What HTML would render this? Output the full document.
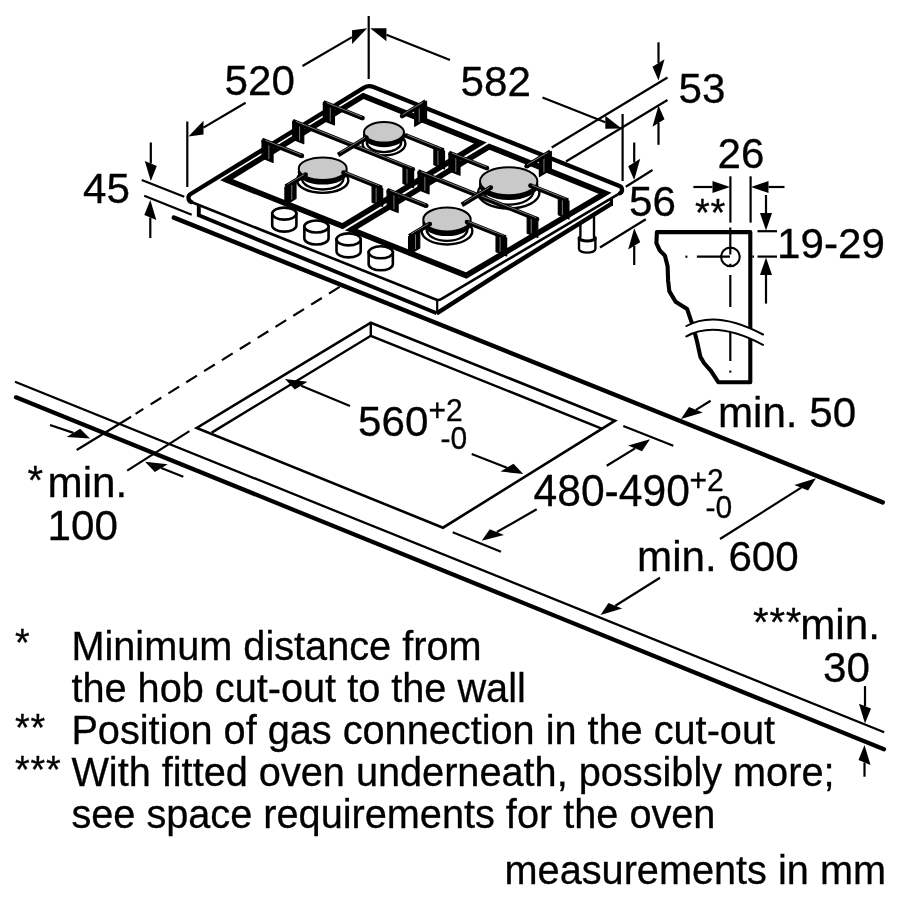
<!DOCTYPE html>
<html><head><meta charset="utf-8"><title>Hob installation dimensions</title>
<style>
html,body{margin:0;padding:0;background:#fff;}
svg{display:block;}
text{font-family:"Liberation Sans",Arial,Helvetica,sans-serif;fill:#000;stroke:#000;stroke-width:0.3px;}
</style></head><body>
<svg width="900" height="900" viewBox="0 0 900 900">
<rect width="900" height="900" fill="#fff"/>
<line x1="173.9" y1="217.7" x2="882.7" y2="502.3" stroke="#000" stroke-width="4.5" stroke-linecap="round" />
<line x1="15" y1="381.7" x2="884.2" y2="732.3" stroke="#000" stroke-width="2.3" stroke-linecap="butt" />
<line x1="16" y1="397.3" x2="884" y2="749.3" stroke="#000" stroke-width="4.2" stroke-linecap="round" />
<line x1="150.6" y1="404.4" x2="341.5" y2="285.8" stroke="#000" stroke-width="2.2" stroke-linecap="butt" stroke-dasharray="12.6 8.4"/>
<line x1="135.6" y1="413.9" x2="143.3" y2="408.9" stroke="#000" stroke-width="2.2" stroke-linecap="butt" />
<line x1="131.1" y1="416.7" x2="76.7" y2="450" stroke="#000" stroke-width="2.2" stroke-linecap="butt" />
<line x1="189.4" y1="431.1" x2="127.2" y2="470.6" stroke="#000" stroke-width="2.2" stroke-linecap="butt" />
<path d="M370.8 322.7 L615 420.7 L443 527.7 L196.7 427.9 Z" fill="none" stroke="#000" stroke-width="2.6" stroke-linecap="butt" stroke-linejoin="miter" />
<path d="M211.7 432.6 L370.8 335.8 L601.7 428.6" fill="none" stroke="#000" stroke-width="2.5" stroke-linecap="butt" stroke-linejoin="miter" />
<line x1="370.8" y1="322.7" x2="370.8" y2="335.8" stroke="#000" stroke-width="2.4" stroke-linecap="butt" />
<path d="M580.4 212 L580.4 237 L579 237.5 L579 249 A8.2 3.6 0 0 0 595.4 249 L595.4 237.5 L594 237 L594 212 Z" fill="#fff" stroke="#000" stroke-width="2.4" stroke-linecap="butt" stroke-linejoin="round" />
<path d="M579 237.6 A8.2 3.4 0 0 0 595.4 237.6" fill="none" stroke="#000" stroke-width="3.0" stroke-linecap="butt" stroke-linejoin="miter" />
<path d="M198.8 205.5 L198.8 215.3 L436.7 313.3 L500 272.8 L611.6 203.6 L611.6 197.5 L438.6 300.6 Z" fill="#fff" stroke="none" stroke-width="0" stroke-linecap="butt" stroke-linejoin="miter" />
<path d="M198.8 205.5 L198.8 215.3 L436.7 313.3" fill="none" stroke="#000" stroke-width="3.9" stroke-linecap="butt" stroke-linejoin="miter" />
<path d="M436.7 313.3 L500 272.8 L611.6 203.6" fill="none" stroke="#000" stroke-width="4.4" stroke-linecap="butt" stroke-linejoin="round" />
<path d="M611.4 206 L611.4 196.5" fill="none" stroke="#000" stroke-width="3.2" stroke-linecap="butt" stroke-linejoin="miter" />
<line x1="437.2" y1="300.5" x2="437.2" y2="312.5" stroke="#000" stroke-width="2.2" stroke-linecap="butt" />
<path d="M191.33 202.02 A4.5 4.5 0 0 1 190.65 194.01 L363.68 87.8 A11 11 0 0 1 373.54 86.97 L619.49 186.07 A4 4 0 0 1 620.03 193.23 L441.14 299.1 A6 6 0 0 1 435.86 299.51 Z" fill="#fff" stroke="none" stroke-width="0" stroke-linecap="butt" stroke-linejoin="miter" />
<path d="M191.33 202.02 A4.5 4.5 0 0 1 190.65 194.01 L363.68 87.8 A11 11 0 0 1 373.54 86.97 L619.49 186.07 A4 4 0 0 1 620.03 193.23" fill="none" stroke="#000" stroke-width="4.3" stroke-linecap="round" stroke-linejoin="round" />
<path d="M191.33 202.02 L435.86 299.51 A6 6 0 0 0 441.14 299.1 L620.03 193.23" fill="none" stroke="#000" stroke-width="2.6" stroke-linecap="round" stroke-linejoin="round" />
<path d="M272.2 213.6 L272.2 225.6 A12.1 6 0 0 0 296.4 225.6 L296.4 213.6 Z" fill="#fff" stroke="#000" stroke-width="2.6" stroke-linecap="butt" stroke-linejoin="miter" />
<ellipse cx="284.3" cy="213.6" rx="12.1" ry="6" fill="#fff" stroke="#000" stroke-width="2.6"/>
<path d="M304.35 226.5 L304.35 238.5 A12.1 6 0 0 0 328.55 238.5 L328.55 226.5 Z" fill="#fff" stroke="#000" stroke-width="2.6" stroke-linecap="butt" stroke-linejoin="miter" />
<ellipse cx="316.45" cy="226.5" rx="12.1" ry="6" fill="#fff" stroke="#000" stroke-width="2.6"/>
<path d="M336.5 239.4 L336.5 251.4 A12.1 6 0 0 0 360.7 251.4 L360.7 239.4 Z" fill="#fff" stroke="#000" stroke-width="2.6" stroke-linecap="butt" stroke-linejoin="miter" />
<ellipse cx="348.6" cy="239.4" rx="12.1" ry="6" fill="#fff" stroke="#000" stroke-width="2.6"/>
<path d="M368.65 252.3 L368.65 264.3 A12.1 6 0 0 0 392.85 264.3 L392.85 252.3 Z" fill="#fff" stroke="#000" stroke-width="2.6" stroke-linecap="butt" stroke-linejoin="miter" />
<ellipse cx="380.75" cy="252.3" rx="12.1" ry="6" fill="#fff" stroke="#000" stroke-width="2.6"/>
<path d="M226.54 179.78 L342.52 226.12 L480.32 143.01 L363.33 95.91 Z" fill="none" stroke="#000" stroke-width="5.75" stroke-linecap="butt" stroke-linejoin="miter" />
<path d="M351.32 229.64 L466.21 275.53 L605.08 193.24 L489.2 146.59 Z" fill="none" stroke="#000" stroke-width="5.75" stroke-linecap="butt" stroke-linejoin="miter" />
<path d="M426.53 119.18 L414.71 126.36 L414.71 108.36 L426.53 101.18 Z" fill="#000" stroke="#000" stroke-width="1.2" stroke-linecap="butt" stroke-linejoin="round" />
<line x1="419.2" y1="122.13" x2="419.2" y2="107.63" stroke="#ccc" stroke-width="0.6" stroke-linecap="butt" />
<ellipse cx="384" cy="143.8" rx="21.4" ry="11.54" fill="#fff" stroke="#000" stroke-width="2.4"/>
<ellipse cx="384" cy="142.3" rx="17.2" ry="9.79" fill="#fff" stroke="#000" stroke-width="2.4"/>
<ellipse cx="384" cy="135.9" rx="20" ry="10.3" fill="#000" stroke="#000" stroke-width="2"/>
<ellipse cx="384" cy="132.3" rx="20" ry="10.3" fill="#c9c9c9" stroke="#000" stroke-width="2"/>
<line x1="425.81" y1="101.62" x2="402.1" y2="116.03" stroke="#000" stroke-width="4.7" stroke-linecap="butt" />
<circle cx="402.1" cy="116.03" r="2.35" fill="#000"/>
<line x1="422.73" y1="102.32" x2="402.43" y2="114.66" stroke="#cfcfcf" stroke-width="0.6" stroke-linecap="butt" />
<path d="M323.38 120.4 L334.45 124.85 L334.45 106.85 L323.38 102.4 Z" fill="#000" stroke="#000" stroke-width="1.2" stroke-linecap="butt" stroke-linejoin="round" />
<line x1="330.25" y1="121.66" x2="330.25" y2="107.16" stroke="#ccc" stroke-width="0.6" stroke-linecap="butt" />
<line x1="323.38" y1="102.4" x2="362.49" y2="118.11" stroke="#000" stroke-width="4.7" stroke-linecap="butt" />
<circle cx="362.49" cy="118.11" r="2.35" fill="#000"/>
<line x1="326.54" y1="102.59" x2="361.94" y2="116.81" stroke="#cfcfcf" stroke-width="0.6" stroke-linecap="butt" />
<line x1="443.62" y1="150.71" x2="406.06" y2="135.62" stroke="#000" stroke-width="4.7" stroke-linecap="butt" />
<circle cx="406.06" cy="135.62" r="2.35" fill="#000"/>
<line x1="441.21" y1="148.66" x2="407.36" y2="135.06" stroke="#cfcfcf" stroke-width="0.6" stroke-linecap="butt" />
<path d="M444.51 169.06 L433.88 164.79 L433.88 146.79 L444.51 151.06 Z" fill="#000" stroke="#000" stroke-width="1.2" stroke-linecap="butt" stroke-linejoin="round" />
<line x1="437.92" y1="164.91" x2="437.92" y2="150.41" stroke="#ccc" stroke-width="0.6" stroke-linecap="butt" />
<path d="M292.71 139.21 L303.76 143.64 L303.76 125.64 L292.71 121.21 Z" fill="#000" stroke="#000" stroke-width="1.2" stroke-linecap="butt" stroke-linejoin="round" />
<line x1="299.56" y1="140.46" x2="299.56" y2="125.96" stroke="#ccc" stroke-width="0.6" stroke-linecap="butt" />
<line x1="292.71" y1="121.21" x2="412.71" y2="169.34" stroke="#000" stroke-width="4.7" stroke-linecap="butt" />
<circle cx="412.71" cy="169.34" r="2.35" fill="#000"/>
<line x1="295.86" y1="121.4" x2="412.16" y2="168.04" stroke="#cfcfcf" stroke-width="0.6" stroke-linecap="butt" />
<path d="M413.6 187.69 L402.99 183.44 L402.99 165.44 L413.6 169.69 Z" fill="#000" stroke="#000" stroke-width="1.2" stroke-linecap="butt" stroke-linejoin="round" />
<line x1="407.02" y1="183.55" x2="407.02" y2="169.05" stroke="#ccc" stroke-width="0.6" stroke-linecap="butt" />
<ellipse cx="322.7" cy="180.2" rx="25.68" ry="12.66" fill="#fff" stroke="#000" stroke-width="2.4"/>
<ellipse cx="322.7" cy="178.7" rx="20.64" ry="10.73" fill="#fff" stroke="#000" stroke-width="2.4"/>
<ellipse cx="322.7" cy="172.3" rx="24" ry="11.3" fill="#000" stroke="#000" stroke-width="2"/>
<ellipse cx="322.7" cy="168.7" rx="24" ry="11.3" fill="#c9c9c9" stroke="#000" stroke-width="2"/>
<line x1="338.08" y1="154.94" x2="366.45" y2="137.7" stroke="#000" stroke-width="4.7" stroke-linecap="butt" />
<circle cx="366.45" cy="137.7" r="2.35" fill="#000"/>
<line x1="340.13" y1="152.53" x2="365.08" y2="137.36" stroke="#cfcfcf" stroke-width="0.6" stroke-linecap="butt" />
<path d="M262.03 158.02 L273.06 162.44 L273.06 144.44 L262.03 140.02 Z" fill="#000" stroke="#000" stroke-width="1.2" stroke-linecap="butt" stroke-linejoin="round" />
<line x1="268.87" y1="159.26" x2="268.87" y2="144.76" stroke="#ccc" stroke-width="0.6" stroke-linecap="butt" />
<line x1="262.03" y1="140.02" x2="301.86" y2="155.97" stroke="#000" stroke-width="4.7" stroke-linecap="butt" />
<circle cx="301.86" cy="155.97" r="2.35" fill="#000"/>
<line x1="265.18" y1="140.21" x2="301.3" y2="154.67" stroke="#cfcfcf" stroke-width="0.6" stroke-linecap="butt" />
<line x1="381.8" y1="187.97" x2="343.51" y2="172.64" stroke="#000" stroke-width="4.7" stroke-linecap="butt" />
<circle cx="343.51" cy="172.64" r="2.35" fill="#000"/>
<line x1="379.39" y1="185.93" x2="344.81" y2="172.09" stroke="#cfcfcf" stroke-width="0.6" stroke-linecap="butt" />
<path d="M382.68 206.32 L372.1 202.08 L372.1 184.08 L382.68 188.32 Z" fill="#000" stroke="#000" stroke-width="1.2" stroke-linecap="butt" stroke-linejoin="round" />
<line x1="376.12" y1="202.2" x2="376.12" y2="187.7" stroke="#ccc" stroke-width="0.6" stroke-linecap="butt" />
<line x1="285.63" y1="186.83" x2="305.58" y2="174.7" stroke="#000" stroke-width="4.7" stroke-linecap="butt" />
<circle cx="305.58" cy="174.7" r="2.35" fill="#000"/>
<line x1="287.67" y1="184.42" x2="304.21" y2="174.37" stroke="#cfcfcf" stroke-width="0.6" stroke-linecap="butt" />
<path d="M284.91 205.27 L296.01 198.52 L296.01 180.52 L284.91 187.27 Z" fill="#000" stroke="#000" stroke-width="1.2" stroke-linecap="butt" stroke-linejoin="round" />
<line x1="291.79" y1="199.59" x2="291.79" y2="185.09" stroke="#ccc" stroke-width="0.6" stroke-linecap="butt" />
<path d="M551.3 169.43 L539.39 176.54 L539.39 158.54 L551.3 151.43 Z" fill="#000" stroke="#000" stroke-width="1.2" stroke-linecap="butt" stroke-linejoin="round" />
<line x1="543.92" y1="172.34" x2="543.92" y2="157.84" stroke="#ccc" stroke-width="0.6" stroke-linecap="butt" />
<ellipse cx="508.7" cy="192.8" rx="30.71" ry="15.68" fill="#fff" stroke="#000" stroke-width="2.4"/>
<ellipse cx="508.7" cy="191.3" rx="24.68" ry="13.3" fill="#fff" stroke="#000" stroke-width="2.4"/>
<ellipse cx="508.7" cy="184.9" rx="28.7" ry="14" fill="#000" stroke="#000" stroke-width="2"/>
<ellipse cx="508.7" cy="181.3" rx="28.7" ry="14" fill="#c9c9c9" stroke="#000" stroke-width="2"/>
<line x1="550.58" y1="151.86" x2="526.68" y2="166.13" stroke="#000" stroke-width="4.7" stroke-linecap="butt" />
<circle cx="526.68" cy="166.13" r="2.35" fill="#000"/>
<line x1="547.49" y1="152.54" x2="527.02" y2="164.76" stroke="#cfcfcf" stroke-width="0.6" stroke-linecap="butt" />
<path d="M448.93 170.84 L460.01 175.29 L460.01 157.29 L448.93 152.84 Z" fill="#000" stroke="#000" stroke-width="1.2" stroke-linecap="butt" stroke-linejoin="round" />
<line x1="455.8" y1="172.1" x2="455.8" y2="157.6" stroke="#ccc" stroke-width="0.6" stroke-linecap="butt" />
<line x1="448.93" y1="152.84" x2="486.94" y2="168.11" stroke="#000" stroke-width="4.7" stroke-linecap="butt" />
<circle cx="486.94" cy="168.11" r="2.35" fill="#000"/>
<line x1="452.09" y1="153.03" x2="486.38" y2="166.81" stroke="#cfcfcf" stroke-width="0.6" stroke-linecap="butt" />
<line x1="568.06" y1="200.7" x2="530.51" y2="185.61" stroke="#000" stroke-width="4.7" stroke-linecap="butt" />
<circle cx="530.51" cy="185.61" r="2.35" fill="#000"/>
<line x1="565.65" y1="198.65" x2="531.81" y2="185.06" stroke="#cfcfcf" stroke-width="0.6" stroke-linecap="butt" />
<path d="M568.95 219.06 L558.32 214.79 L558.32 196.79 L568.95 201.06 Z" fill="#000" stroke="#000" stroke-width="1.2" stroke-linecap="butt" stroke-linejoin="round" />
<line x1="562.36" y1="214.91" x2="562.36" y2="200.41" stroke="#ccc" stroke-width="0.6" stroke-linecap="butt" />
<path d="M418.02 189.47 L429.07 193.9 L429.07 175.9 L418.02 171.47 Z" fill="#000" stroke="#000" stroke-width="1.2" stroke-linecap="butt" stroke-linejoin="round" />
<line x1="424.87" y1="190.71" x2="424.87" y2="176.21" stroke="#ccc" stroke-width="0.6" stroke-linecap="butt" />
<line x1="418.02" y1="171.47" x2="536.92" y2="219.15" stroke="#000" stroke-width="4.7" stroke-linecap="butt" />
<circle cx="536.92" cy="219.15" r="2.35" fill="#000"/>
<line x1="421.17" y1="171.65" x2="536.36" y2="217.85" stroke="#cfcfcf" stroke-width="0.6" stroke-linecap="butt" />
<path d="M537.8 237.5 L527.19 233.25 L527.19 215.25 L537.8 219.5 Z" fill="#000" stroke="#000" stroke-width="1.2" stroke-linecap="butt" stroke-linejoin="round" />
<line x1="531.22" y1="233.36" x2="531.22" y2="218.86" stroke="#ccc" stroke-width="0.6" stroke-linecap="butt" />
<ellipse cx="447" cy="231" rx="25.36" ry="13.44" fill="#fff" stroke="#000" stroke-width="2.4"/>
<ellipse cx="447" cy="229.5" rx="20.38" ry="11.4" fill="#fff" stroke="#000" stroke-width="2.4"/>
<ellipse cx="447" cy="223.1" rx="23.7" ry="12" fill="#000" stroke="#000" stroke-width="2"/>
<ellipse cx="447" cy="219.5" rx="23.7" ry="12" fill="#c9c9c9" stroke="#000" stroke-width="2"/>
<line x1="461.81" y1="204.88" x2="490.76" y2="187.58" stroke="#000" stroke-width="4.7" stroke-linecap="butt" />
<circle cx="490.76" cy="187.58" r="2.35" fill="#000"/>
<line x1="463.87" y1="202.48" x2="489.39" y2="187.24" stroke="#cfcfcf" stroke-width="0.6" stroke-linecap="butt" />
<path d="M387.1 208.09 L398.13 212.5 L398.13 194.5 L387.1 190.09 Z" fill="#000" stroke="#000" stroke-width="1.2" stroke-linecap="butt" stroke-linejoin="round" />
<line x1="393.93" y1="209.33" x2="393.93" y2="194.83" stroke="#ccc" stroke-width="0.6" stroke-linecap="butt" />
<line x1="387.1" y1="190.09" x2="426.27" y2="205.77" stroke="#000" stroke-width="4.7" stroke-linecap="butt" />
<circle cx="426.27" cy="205.77" r="2.35" fill="#000"/>
<line x1="390.25" y1="190.28" x2="425.71" y2="204.47" stroke="#cfcfcf" stroke-width="0.6" stroke-linecap="butt" />
<line x1="505.77" y1="237.6" x2="467.04" y2="222.09" stroke="#000" stroke-width="4.7" stroke-linecap="butt" />
<circle cx="467.04" cy="222.09" r="2.35" fill="#000"/>
<line x1="503.35" y1="235.55" x2="468.34" y2="221.53" stroke="#cfcfcf" stroke-width="0.6" stroke-linecap="butt" />
<path d="M506.65 255.95 L496.06 251.71 L496.06 233.71 L506.65 237.95 Z" fill="#000" stroke="#000" stroke-width="1.2" stroke-linecap="butt" stroke-linejoin="round" />
<line x1="500.09" y1="251.82" x2="500.09" y2="237.32" stroke="#ccc" stroke-width="0.6" stroke-linecap="butt" />
<line x1="409.3" y1="236.24" x2="429.78" y2="224.01" stroke="#000" stroke-width="4.7" stroke-linecap="butt" />
<circle cx="429.78" cy="224.01" r="2.35" fill="#000"/>
<line x1="411.37" y1="233.84" x2="428.41" y2="223.66" stroke="#cfcfcf" stroke-width="0.6" stroke-linecap="butt" />
<path d="M408.58 254.67 L419.77 247.99 L419.77 229.99 L408.58 236.67 Z" fill="#000" stroke="#000" stroke-width="1.2" stroke-linecap="butt" stroke-linejoin="round" />
<line x1="415.52" y1="249.03" x2="415.52" y2="234.53" stroke="#ccc" stroke-width="0.6" stroke-linecap="butt" />
<line x1="187.3" y1="121.5" x2="187.3" y2="187" stroke="#000" stroke-width="2.2" stroke-linecap="butt" />
<line x1="368.7" y1="16" x2="368.7" y2="79" stroke="#000" stroke-width="2.2" stroke-linecap="butt" />
<line x1="245.6" y1="102.7" x2="203.47" y2="127.6" stroke="#000" stroke-width="2.2" stroke-linecap="butt" />
<path d="M188.4 136.5 L203.47 134.57 L203.47 120.63 Z" fill="#000"/>
<line x1="302.5" y1="66" x2="352.08" y2="37.11" stroke="#000" stroke-width="2.2" stroke-linecap="butt" />
<path d="M367.2 28.3 L352.08 44.05 L352.08 30.17 Z" fill="#000"/>
<line x1="450" y1="60" x2="386.46" y2="34.76" stroke="#000" stroke-width="2.2" stroke-linecap="butt" />
<path d="M370.2 28.3 L386.46 41.22 L386.46 28.3 Z" fill="#000"/>
<line x1="542.5" y1="97.5" x2="605.31" y2="122.2" stroke="#000" stroke-width="2.2" stroke-linecap="butt" />
<path d="M621.6 128.6 L605.31 128.64 L605.31 115.75 Z" fill="#000"/>
<line x1="622.6" y1="114" x2="622.6" y2="181" stroke="#000" stroke-width="2.2" stroke-linecap="butt" />
<line x1="551.7" y1="147.5" x2="667.5" y2="77.5" stroke="#000" stroke-width="2.2" stroke-linecap="butt" />
<line x1="566" y1="161.5" x2="667.5" y2="100" stroke="#000" stroke-width="2.2" stroke-linecap="butt" />
<line x1="658.5" y1="42.3" x2="658.5" y2="63" stroke="#000" stroke-width="2.2" stroke-linecap="butt" />
<path d="M658.5 80.5 L664.5 59.37 L652.5 66.63 Z" fill="#000"/>
<line x1="658.5" y1="144.8" x2="658.5" y2="123" stroke="#000" stroke-width="2.2" stroke-linecap="butt" />
<path d="M658.5 105.5 L664.5 119.37 L652.5 126.63 Z" fill="#000"/>
<line x1="625.8" y1="186.7" x2="652.5" y2="170" stroke="#000" stroke-width="2.2" stroke-linecap="butt" />
<line x1="600" y1="247.5" x2="645.8" y2="219.2" stroke="#000" stroke-width="2.2" stroke-linecap="butt" />
<line x1="634.2" y1="142.5" x2="634.2" y2="162.5" stroke="#000" stroke-width="2.2" stroke-linecap="butt" />
<path d="M634.2 180 L640.2 158.87 L628.2 166.13 Z" fill="#000"/>
<line x1="634.2" y1="265" x2="634.2" y2="245.8" stroke="#000" stroke-width="2.2" stroke-linecap="butt" />
<path d="M634.2 228.3 L640.2 242.17 L628.2 249.43 Z" fill="#000"/>
<line x1="141.7" y1="180" x2="184.2" y2="196.7" stroke="#000" stroke-width="2.2" stroke-linecap="butt" />
<line x1="144.2" y1="195.8" x2="191.7" y2="214.7" stroke="#000" stroke-width="2.2" stroke-linecap="butt" />
<line x1="150.8" y1="142.5" x2="150.8" y2="163.5" stroke="#000" stroke-width="2.2" stroke-linecap="butt" />
<path d="M150.8 181 L156.8 165.91 L144.8 161.09 Z" fill="#000"/>
<line x1="150.3" y1="238" x2="150.3" y2="217.5" stroke="#000" stroke-width="2.2" stroke-linecap="butt" />
<path d="M150.3 200 L156.3 219.91 L144.3 215.09 Z" fill="#000"/>
<line x1="50" y1="425" x2="73.42" y2="432.9" stroke="#000" stroke-width="2.2" stroke-linecap="butt" />
<path d="M90 438.5 L80.14 428.84 L66.7 436.97 Z" fill="#000"/>
<line x1="183.3" y1="476.7" x2="161.29" y2="468.08" stroke="#000" stroke-width="2.2" stroke-linecap="butt" />
<path d="M145 461.7 L167.76 464.17 L154.83 471.99 Z" fill="#000"/>
<line x1="350" y1="406" x2="301.16" y2="385.71" stroke="#000" stroke-width="2.2" stroke-linecap="butt" />
<path d="M285 379 L307.53 381.86 L294.79 389.57 Z" fill="#000"/>
<line x1="471.7" y1="454" x2="506.98" y2="467.68" stroke="#000" stroke-width="2.2" stroke-linecap="butt" />
<path d="M523.3 474 L513.47 463.75 L500.5 471.6 Z" fill="#000"/>
<line x1="623.3" y1="426" x2="673.3" y2="445.7" stroke="#000" stroke-width="2.2" stroke-linecap="butt" />
<line x1="452.7" y1="532.3" x2="501" y2="551.7" stroke="#000" stroke-width="2.2" stroke-linecap="butt" />
<line x1="606.7" y1="465.7" x2="635.06" y2="448.41" stroke="#000" stroke-width="2.2" stroke-linecap="butt" />
<path d="M650 439.3 L642.01 451.2 L628.11 445.62 Z" fill="#000"/>
<line x1="536.7" y1="509.3" x2="496.9" y2="532.02" stroke="#000" stroke-width="2.2" stroke-linecap="butt" />
<path d="M481.7 540.7 L504 534.88 L489.79 529.17 Z" fill="#000"/>
<line x1="710.6" y1="400.8" x2="695.91" y2="409.83" stroke="#000" stroke-width="2.2" stroke-linecap="butt" />
<path d="M681 419 L702.84 412.62 L688.98 407.05 Z" fill="#000"/>
<line x1="720" y1="539" x2="801.21" y2="487.65" stroke="#000" stroke-width="2.2" stroke-linecap="butt" />
<path d="M816 478.3 L808.08 490.41 L794.34 484.9 Z" fill="#000"/>
<line x1="660" y1="577.7" x2="615.33" y2="605.7" stroke="#000" stroke-width="2.2" stroke-linecap="butt" />
<path d="M600.5 615 L622.21 608.47 L608.44 602.94 Z" fill="#000"/>
<line x1="865" y1="686.1" x2="865" y2="706.1" stroke="#000" stroke-width="2.2" stroke-linecap="butt" />
<path d="M865 723.6 L871 708.51 L859 703.69 Z" fill="#000"/>
<line x1="864.5" y1="776.7" x2="864.5" y2="762.5" stroke="#000" stroke-width="2.2" stroke-linecap="butt" />
<path d="M864.5 745 L870.5 764.91 L858.5 760.09 Z" fill="#000"/>
<line x1="730.4" y1="176.3" x2="730.4" y2="222.6" stroke="#000" stroke-width="2.2" stroke-linecap="butt" />
<line x1="750.6" y1="176.3" x2="750.6" y2="222.6" stroke="#000" stroke-width="2.2" stroke-linecap="butt" />
<line x1="693.4" y1="187" x2="712.5" y2="187" stroke="#000" stroke-width="2.2" stroke-linecap="butt" />
<path d="M730 187 L712.5 193 L712.5 181 Z" fill="#000"/>
<line x1="784.5" y1="187" x2="768.5" y2="187" stroke="#000" stroke-width="2.2" stroke-linecap="butt" />
<path d="M751 187 L768.5 181 L768.5 193 Z" fill="#000"/>
<line x1="757.5" y1="231.2" x2="777" y2="231.2" stroke="#000" stroke-width="2.2" stroke-linecap="butt" />
<line x1="757.5" y1="256.6" x2="777" y2="256.6" stroke="#000" stroke-width="2.2" stroke-linecap="butt" />
<line x1="766" y1="195" x2="766" y2="213" stroke="#000" stroke-width="2.2" stroke-linecap="butt" />
<path d="M766 230.5 L760 213 L772 213 Z" fill="#000"/>
<line x1="766" y1="303.6" x2="766" y2="275" stroke="#000" stroke-width="2.2" stroke-linecap="butt" />
<path d="M766 257.5 L772 275 L760 275 Z" fill="#000"/>
<path d="M750.3 382.2 L750.3 232.1 L656.9 232.1 L656.4 243.1 L659.6 250.2 L664.9 255.6 L667.6 266.2 L668.1 280.4 L669.3 291.1 L675.6 301.8 L687.1 308.9 L690.7 319.6 L693.3 326.7 L696.9 340.9 L700.4 356.9 L704 363 L711.1 371.1 L718.3 382.2 Z" fill="none" stroke="#000" stroke-width="4.1" stroke-linecap="butt" stroke-linejoin="round" />
<line x1="730.3" y1="227.5" x2="730.3" y2="254.5" stroke="#000" stroke-width="2.2" stroke-linecap="butt" />
<line x1="730.3" y1="263.8" x2="730.3" y2="265.6" stroke="#000" stroke-width="2.2" stroke-linecap="butt" />
<line x1="752.3" y1="256.7" x2="754" y2="256.7" stroke="#000" stroke-width="2.2" stroke-linecap="butt" />
<line x1="730.3" y1="275" x2="730.3" y2="307" stroke="#000" stroke-width="2.2" stroke-linecap="butt" />
<line x1="730.3" y1="330.3" x2="730.3" y2="361" stroke="#000" stroke-width="2.2" stroke-linecap="butt" />
<line x1="730.3" y1="370.6" x2="730.3" y2="372.6" stroke="#000" stroke-width="2.2" stroke-linecap="butt" />
<line x1="685.4" y1="256.7" x2="687.4" y2="256.7" stroke="#000" stroke-width="2.2" stroke-linecap="butt" />
<line x1="696.9" y1="256.7" x2="730" y2="256.7" stroke="#000" stroke-width="2.2" stroke-linecap="butt" />
<circle cx="730.4" cy="256.9" r="9.3" fill="none" stroke="#000" stroke-width="2.1"/>
<path d="M686.4 326 Q716 309.5 763 334.5 L763 344.9 Q716 319.9 686.4 336.4 Z" fill="#fff" stroke="none"/>
<path d="M686.4 326 Q716 309.5 763 334.5" fill="none" stroke="#000" stroke-width="2.0" stroke-linecap="round" stroke-linejoin="miter" />
<path d="M686.4 336.4 Q716 319.9 763 344.9" fill="none" stroke="#000" stroke-width="2.0" stroke-linecap="round" stroke-linejoin="miter" />
<g opacity="0.999">
<text transform="translate(224.5 95.4) scale(1 1.024)" font-size="42.2" text-anchor="start" >520</text>
<text transform="translate(460.5 95.6) scale(1 1.024)" font-size="42.2" text-anchor="start" >582</text>
<text transform="translate(678.5 103.1) scale(1 1.024)" font-size="42.2" text-anchor="start" >53</text>
<text transform="translate(83 203.1) scale(1 1.024)" font-size="42.2" text-anchor="start" >45</text>
<text transform="translate(629 215.6) scale(1 1.024)" font-size="42.2" text-anchor="start" >56</text>
<text transform="translate(717.5 168.3) scale(1 1.024)" font-size="42.2" text-anchor="start" >26</text>
<text transform="translate(695 226) scale(1 1.024)" font-size="38.0" text-anchor="start" letter-spacing="0.8">**</text>
<text transform="translate(777 257.8) scale(1 1.024)" font-size="42.2" text-anchor="start" >19-29</text>
<text transform="translate(717.9 427.4) scale(1 1.024)" font-size="42.2" text-anchor="start" >min. 50</text>
<text transform="translate(358 435.6) scale(1 1.024)" font-size="42.2" text-anchor="start" >560</text>
<text transform="translate(428.5 420.6) scale(1 1.024)" font-size="30" text-anchor="start" >+2</text>
<text transform="translate(440.5 448.6) scale(1 1.024)" font-size="30" text-anchor="start" >-0</text>
<text transform="translate(533.5 505.6) scale(1 1.024)" font-size="42.6" text-anchor="start" >480-490</text>
<text transform="translate(689.5 490.6) scale(1 1.024)" font-size="30" text-anchor="start" >+2</text>
<text transform="translate(705.5 518.3) scale(1 1.024)" font-size="30" text-anchor="start" >-0</text>
<text transform="translate(637 571.3) scale(1 1.024)" font-size="42.2" text-anchor="start" >min. 600</text>
<text transform="translate(753 635.8) scale(1 1.024)" font-size="40.09" text-anchor="start" letter-spacing="0.84">***</text>
<text transform="translate(800.2 639.4) scale(1 1.024)" font-size="42.2" text-anchor="start" >min.</text>
<text transform="translate(823 681.6) scale(1 1.024)" font-size="42.2" text-anchor="start" >30</text>
<text transform="translate(27.5 493.7) scale(1 1.024)" font-size="40.09" text-anchor="start" letter-spacing="0.84">*</text>
<text transform="translate(47.5 497.3) scale(1 1.024)" font-size="42.2" text-anchor="start" >min.</text>
<text transform="translate(47.5 539.9) scale(1 1.024)" font-size="42.2" text-anchor="start" >100</text>
<text transform="translate(15 656.2) scale(1 1.024)" font-size="37.715" text-anchor="start" letter-spacing="0.79">*</text>
<text transform="translate(71.4 659.8) scale(1 1.024)" font-size="39.7" text-anchor="start" >Minimum distance from</text>
<text transform="translate(71.4 701.95) scale(1 1.024)" font-size="39.7" text-anchor="start" >the hob cut-out to the wall</text>
<text transform="translate(15 740.5) scale(1 1.024)" font-size="37.715" text-anchor="start" letter-spacing="0.79">**</text>
<text transform="translate(71.4 744.1) scale(1 1.024)" font-size="39.7" text-anchor="start" >Position of gas connection in the cut-out</text>
<text transform="translate(15 782.65) scale(1 1.024)" font-size="37.715" text-anchor="start" letter-spacing="0.79">***</text>
<text transform="translate(71.4 786.25) scale(1 1.024)" font-size="39.7" text-anchor="start" >With fitted oven underneath, possibly more;</text>
<text transform="translate(71.4 828.4) scale(1 1.024)" font-size="39.7" text-anchor="start" >see space requirements for the oven</text>
<text transform="translate(886 883.6) scale(1 1.024)" font-size="39.7" text-anchor="end" >measurements in mm</text>
</g>
</svg>
</body></html>
